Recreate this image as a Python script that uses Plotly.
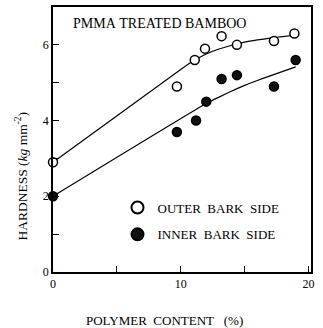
import plotly.graph_objects as go

# Measured data points
outer_x = [0, 9.7, 11.1, 11.9, 13.2, 14.4, 17.3, 18.9]
outer_y = [2.9, 4.9, 5.6, 5.9, 6.23, 6.0, 6.1, 6.3]
inner_x = [0, 9.7, 11.2, 12.0, 13.2, 14.4, 17.3, 19.0]
inner_y = [2.0, 3.7, 4.0, 4.5, 5.1, 5.2, 4.9, 5.6]

# Fitted curves
outer_curve_x = [0, 10, 11, 12, 13, 14, 15, 16, 17, 18, 19]
outer_curve_y = [2.9, 5.35, 5.58, 5.76, 5.89, 5.99, 6.07, 6.13, 6.18, 6.22, 6.26]
inner_curve_x = [0, 12, 13, 14, 15, 16, 17, 18, 19]
inner_curve_y = [2.0, 4.45, 4.62, 4.78, 4.93, 5.06, 5.18, 5.3, 5.42]

x_ticks = [0, 5, 10, 15, 20]
x_labels = ["0", "", "10", "", "20"]
y_ticks = [0, 1, 2, 3, 4, 5, 6]
y_labels = ["0", "", "2", "", "4", "", "6"]

serif = "Liberation Serif, Times New Roman, serif"
NB = "\u00a0"

fig = go.Figure()
fig.add_trace(go.Scatter(x=outer_curve_x, y=outer_curve_y, mode="lines",
                         line=dict(color="black", width=1.2, shape="spline", smoothing=0.6),
                         showlegend=False, hoverinfo="skip"))
fig.add_trace(go.Scatter(x=inner_curve_x, y=inner_curve_y, mode="lines",
                         line=dict(color="black", width=1.2, shape="spline", smoothing=0.6),
                         showlegend=False, hoverinfo="skip"))
fig.add_trace(go.Scatter(x=outer_x, y=outer_y, mode="markers",
                         name="OUTER" + NB * 2 + "BARK" + NB * 2 + "SIDE",
                         legendgroup="a",
                         marker=dict(symbol="circle", size=9, color="white",
                                     line=dict(color="black", width=1.5)),
                         cliponaxis=False))
fig.add_trace(go.Scatter(x=inner_x, y=inner_y, mode="markers",
                         name="INNER" + NB * 2 + "BARK" + NB * 2 + "SIDE",
                         legendgroup="b",
                         marker=dict(symbol="circle", size=9, color="#111111",
                                     line=dict(color="black", width=1.5)),
                         cliponaxis=False))

fig.update_layout(
    width=323, height=328,
    margin=dict(l=53, r=12, t=5, b=56),
    paper_bgcolor="white", plot_bgcolor="white",
    font=dict(family=serif, color="black", size=12),
    showlegend=True,
    legend=dict(x=0.25, y=0.30, xanchor="left", yanchor="top",
                bgcolor="rgba(0,0,0,0)", font=dict(size=13, family=serif),
                tracegroupgap=7, itemsizing="constant"),
    xaxis=dict(range=[0, 20.2], tickvals=x_ticks, ticktext=x_labels,
               ticks="inside", ticklen=6, tickwidth=1.2, tickcolor="black",
               showline=True, linecolor="black", linewidth=1.5, mirror=True,
               showgrid=False, zeroline=False,
               tickfont=dict(size=12, family=serif)),
    yaxis=dict(range=[0, 7.0], tickvals=y_ticks, ticktext=y_labels,
               ticks="inside", ticklen=6, tickwidth=1.2, tickcolor="black",
               showline=True, linecolor="black", linewidth=1.5, mirror=True,
               showgrid=False, zeroline=False,
               tickfont=dict(size=12, family=serif)),
    annotations=[
        dict(text="PMMA" + NB + "TREATED" + NB + "BAMBOO", x=0.07, y=0.975,
             xref="paper", yref="paper", xanchor="left", yanchor="top",
             showarrow=False, font=dict(size=14, family=serif)),
        dict(text="POLYMER" + NB * 2 + "CONTENT" + NB * 3 + "(%)", x=0.434, y=0,
             xref="paper", yref="paper", xanchor="center", yanchor="middle",
             yshift=-48, showarrow=False, font=dict(size=13, family=serif)),
        dict(text="HARDNESS" + NB + "(<i>kg</i>" + NB + "mm<sup>-2</sup>)",
             x=0, y=0.36, xref="paper", yref="paper", xanchor="center",
             yanchor="middle", xshift=-31, textangle=-90, showarrow=False,
             font=dict(size=13.5, family=serif)),
    ],
)

fig.write_html("out.html")
